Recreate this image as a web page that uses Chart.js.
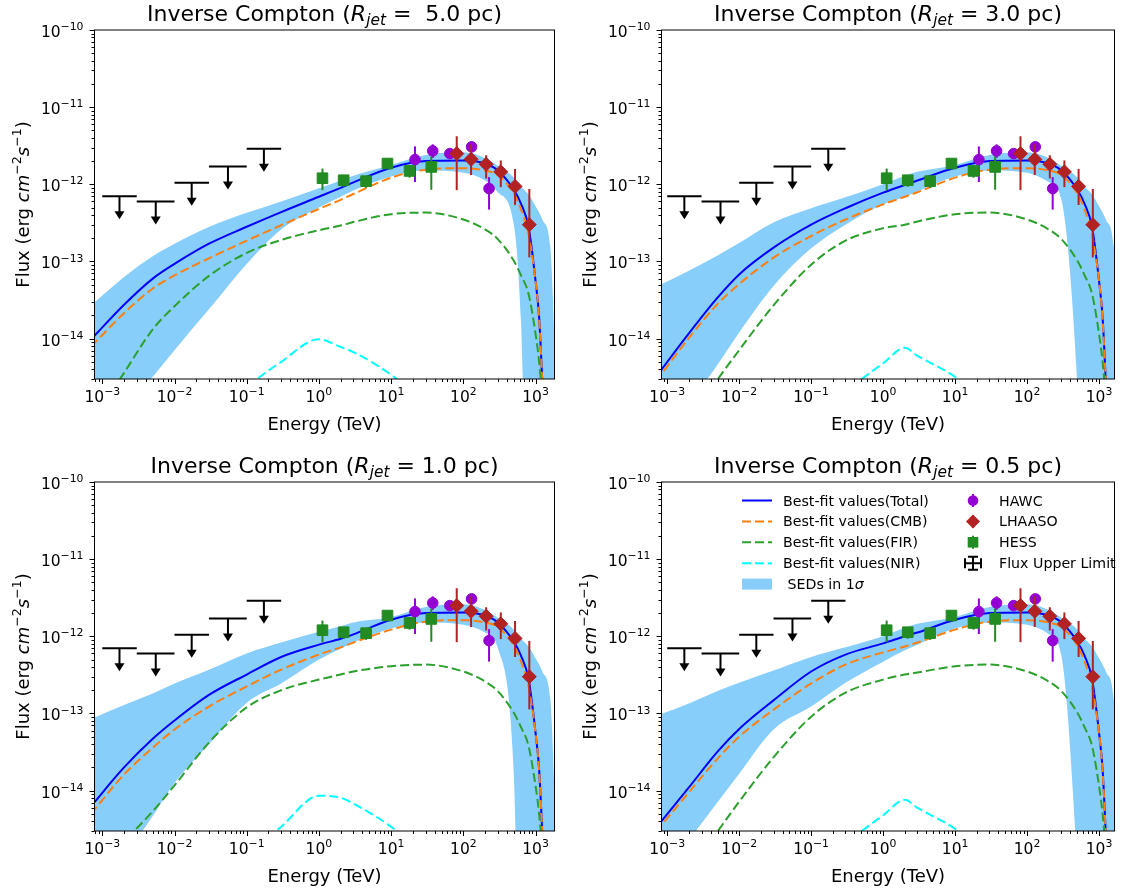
<!DOCTYPE html>
<html>
<head>
<meta charset="utf-8">
<script src="https://cdn.jsdelivr.net/npm/chart.js"></script>
<style>
  html, body { margin: 0; padding: 0; background: #fff; }
  #fig { position: relative; width: 1123px; height: 893px; background: #fff; }
  #fig canvas { position: absolute; left: 0; top: 0; }
</style>
</head>
<body>
<div id="fig">
  <canvas id="c0" width="1123" height="893"></canvas>
  <canvas id="c1" width="1123" height="893"></canvas>
  <canvas id="c2" width="1123" height="893"></canvas>
  <canvas id="c3" width="1123" height="893"></canvas>
</div>
<script>
// ---- model grid (TeV) ----
const energyTeV = [7e-4, 2e-3, 5e-3, 0.01, 0.03, 0.1, 0.3, 1, 2, 3, 10, 30, 100, 200, 300, 500, 630, 800, 1000, 1120, 1260, 1600, 2000];

// above 10 TeV the four fits look the same
const totalTail = [1.64e-12, 2.0e-12, 2.04e-12, 1.86e-12, 1.51e-12, 8.5e-13, 5.6e-13, 2.8e-13, 5.6e-14, 1.9e-14, 2.0e-15, 1e-17, 1e-19];
const cmbTail = [1.22e-12, 1.55e-12, 1.62e-12, 1.51e-12, 1.32e-12, 7.6e-13, 4.7e-13, 2.24e-13, 5.6e-14, 1.8e-14, 2.0e-15, 1e-17, 1e-19];
const firTail = [4.1e-13, 4.3e-13, 3.5e-13, 2.6e-13, 1.95e-13, 1.02e-13, 6.6e-14, 3.8e-14, 1.15e-14, 5.0e-15, 1.26e-15, 1e-17, 1e-19];
const bandHiTail = [1.78e-12, 2.4e-12, 2.6e-12, 2.2e-12, 1.74e-12, 1.23e-12, 9.3e-13, 7.4e-13, 5.2e-13, 4.3e-13, 3.4e-13, 1.55e-13, 1e-15];

// R_jet = 5.0 pc
const total5 = [9.8e-15, 2.75e-14, 6.0e-14, 9.3e-14, 1.7e-13, 2.82e-13, 4.37e-13, 6.9e-13, 9.0e-13, 1.06e-12, ...totalTail];
const cmb5 = [7.9e-15, 2.14e-14, 4.47e-14, 6.6e-14, 1.1e-13, 1.86e-13, 2.95e-13, 4.8e-13, 6.3e-13, 7.5e-13, ...cmbTail];
const fir5 = [7.9e-16, 3.6e-15, 1.32e-14, 2.63e-14, 6.5e-14, 1.29e-13, 1.9e-13, 2.54e-13, 2.92e-13, 3.24e-13, ...firTail];
const nir5 = [1e-17, 1e-17, 1e-16, 2.5e-16, 8e-16, 2.34e-15, 5.0e-15, 9.8e-15, 7.8e-15, 6.7e-15, 3.4e-15, 1.41e-15, 3.2e-16, 1e-17, 1e-17, 1e-17, 1e-17, 1e-17, 1e-17, 1e-17, 1e-17, 1e-17, 1e-17];
const bandHi5 = [2.7e-14, 6.3e-14, 1.17e-13, 1.7e-13, 2.8e-13, 4.27e-13, 6.0e-13, 8.9e-13, 1.12e-12, 1.29e-12, ...bandHiTail];
const bandLo5 = [4e-16, 1.17e-15, 3.2e-15, 7.1e-15, 2.4e-14, 9.3e-14, 2.6e-13, 5.0e-13, 6.9e-13, 8.3e-13, 1.26e-12, 1.51e-12, 1.41e-12, 1.12e-12, 7.9e-13, 3.0e-13, 1.6e-14, 1e-17, 1e-17, 1e-17, 1e-17, 1e-17, 1e-17];

// R_jet = 3.0 pc
const total3 = [3.2e-15, 1.17e-14, 3.4e-14, 6.8e-14, 1.51e-13, 3.0e-13, 4.9e-13, 7.8e-13, 9.8e-13, 1.12e-12, ...totalTail];
const cmb3 = [2.8e-15, 1.02e-14, 2.8e-14, 5.1e-14, 1.12e-13, 2.14e-13, 3.5e-13, 5.5e-13, 6.9e-13, 7.9e-13, ...cmbTail];
const fir3 = [2.5e-16, 8.9e-16, 2.95e-15, 7.1e-15, 2.7e-14, 9.1e-14, 1.86e-13, 2.7e-13, 3.0e-13, 3.3e-13, ...firTail];
const nir3 = [1e-17, 1e-17, 1e-17, 1e-16, 4e-16, 1e-15, 2.1e-15, 4.8e-15, 7.6e-15, 6.0e-15, 3.2e-15, 1.41e-15, 3.2e-16, 1e-17, 1e-17, 1e-17, 1e-17, 1e-17, 1e-17, 1e-17, 1e-17, 1e-17, 1e-17];
const bandHi3 = [4.7e-14, 7.6e-14, 1.2e-13, 1.74e-13, 3.2e-13, 4.9e-13, 6.8e-13, 1.0e-12, 1.29e-12, 1.45e-12, ...bandHiTail];
const bandLo3 = [4e-16, 1.41e-15, 4.6e-15, 1.2e-14, 4.8e-14, 1.48e-13, 3.0e-13, 5.5e-13, 6.9e-13, 8.1e-13, 1.26e-12, 1.51e-12, 1.41e-12, 1.07e-12, 6.3e-13, 2.5e-15, 1e-17, 1e-17, 1e-17, 1e-17, 1e-17, 1e-17, 1e-17];

// R_jet = 1.0 pc
const total1 = [6.3e-15, 2.0e-14, 4.7e-14, 8.1e-14, 1.74e-13, 3.2e-13, 5.4e-13, 7.8e-13, 9.3e-13, 1.06e-12, ...totalTail];
const cmb1 = [5.0e-15, 1.62e-14, 3.6e-14, 6.2e-14, 1.23e-13, 2.24e-13, 3.7e-13, 5.8e-13, 7.2e-13, 8.3e-13, ...cmbTail];
const fir1 = [7.9e-16, 2.2e-15, 5.4e-15, 1.17e-14, 4.2e-14, 1.2e-13, 2.0e-13, 2.75e-13, 3.2e-13, 3.5e-13, ...firTail];
const nir1 = [1e-17, 1e-17, 1e-17, 1e-16, 5e-16, 1.41e-15, 3.4e-15, 8.6e-15, 8.1e-15, 6.8e-15, 3.4e-15, 1.41e-15, 3.2e-16, 1e-17, 1e-17, 1e-17, 1e-17, 1e-17, 1e-17, 1e-17, 1e-17, 1e-17, 1e-17];
const bandHi1 = [8.5e-14, 1.29e-13, 1.82e-13, 2.45e-13, 3.7e-13, 6.0e-13, 8.3e-13, 1.15e-12, 1.35e-12, 1.51e-12, ...bandHiTail];
const bandLo1 = [5e-16, 1.41e-15, 4.7e-15, 1.26e-14, 4.0e-14, 1.38e-13, 2.45e-13, 5.0e-13, 6.9e-13, 8.3e-13, 1.26e-12, 1.51e-12, 1.41e-12, 1.12e-12, 7.1e-13, 1.6e-14, 1e-17, 1e-17, 1e-17, 1e-17, 1e-17, 1e-17, 1e-17];

// R_jet = 0.5 pc
const total05 = [3.3e-15, 1.1e-14, 3.2e-14, 6.3e-14, 1.48e-13, 3.5e-13, 5.8e-13, 8.1e-13, 1.0e-12, 1.12e-12, ...totalTail];
const cmb05 = [2.95e-15, 9.5e-15, 2.6e-14, 5.0e-14, 1.12e-13, 2.45e-13, 4.3e-13, 6.2e-13, 7.4e-13, 8.3e-13, ...cmbTail];
const fir05 = [2.5e-16, 8.9e-16, 2.95e-15, 7.2e-15, 2.7e-14, 9.1e-14, 1.86e-13, 2.75e-13, 3.2e-13, 3.4e-13, ...firTail];
const nir05 = [1e-17, 1e-17, 1e-17, 1e-16, 4e-16, 1e-15, 2.1e-15, 4.8e-15, 7.6e-15, 6.0e-15, 3.2e-15, 1.41e-15, 3.2e-16, 1e-17, 1e-17, 1e-17, 1e-17, 1e-17, 1e-17, 1e-17, 1e-17, 1e-17, 1e-17];
const bandHi05 = [9.3e-14, 1.35e-13, 1.95e-13, 2.5e-13, 3.6e-13, 5.4e-13, 7.2e-13, 1.0e-12, 1.29e-12, 1.45e-12, ...bandHiTail];
const bandLo05 = [6.3e-16, 2.3e-15, 7.1e-15, 1.66e-14, 6.2e-14, 1.23e-13, 2.5e-13, 4.7e-13, 6.6e-13, 7.8e-13, 1.26e-12, 1.51e-12, 1.41e-12, 1.07e-12, 5.6e-13, 1e-15, 1e-17, 1e-17, 1e-17, 1e-17, 1e-17, 1e-17, 1e-17];

// ---- measurements ----
const hawcE = [21.4, 37.7, 65, 130, 227];
const hawcF = [2.09e-12, 2.71e-12, 2.5e-12, 3.06e-12, 8.8e-13];
const hawcLo = [1.07e-12, 2.2e-12, 2.25e-12, 2.6e-12, 4.7e-13];
const hawcHi = [3.1e-12, 3.3e-12, 2.8e-12, 3.45e-12, 1.24e-12];

const lhaasoE = [81, 128, 207, 330, 520, 820];
const lhaasoF = [2.5e-12, 2.11e-12, 1.82e-12, 1.45e-12, 9.4e-13, 3.0e-13];
const lhaasoLo = [8.4e-13, 1.32e-12, 1.19e-12, 9.2e-13, 5.4e-13, 1.13e-13];
const lhaasoHi = [4.2e-12, 3.3e-12, 2.38e-12, 2.04e-12, 1.58e-12, 8.7e-13];

const hessE = [1.12, 2.2, 4.5, 8.9, 18, 36];
const hessF = [1.2e-12, 1.13e-12, 1.1e-12, 1.86e-12, 1.49e-12, 1.68e-12];
const hessLo = [8.4e-13, 9.3e-13, 9.0e-13, 1.7e-12, 1.22e-12, 8.5e-13];
const hessHi = [1.6e-12, 1.31e-12, 1.28e-12, 2.0e-12, 1.77e-12, 2.3e-12];

// flux upper limits: energy bin edges and flux
const ulELo = [1e-3, 3e-3, 1e-2, 3e-2, 0.1];
const ulEHi = [3e-3, 1e-2, 3e-2, 0.1, 0.3];
const ulE = [1.73e-3, 5.5e-3, 1.73e-2, 5.5e-2, 0.173];
const ulFlux = [7e-13, 6e-13, 1.05e-12, 1.7e-12, 2.9e-12];

const yTicks = [-14, -13, -12, -11, -10];

const C = {
  total: '#0000ff', cmb: '#ff7f0e', fir: '#2ca02c', nir: '#00ffff', band: '#87cefa',
  hawc: '#9400d3', lhaaso: '#b22222', hess: '#228b22'
};
const FAM = '"DejaVu Sans"';

const panels = [
  { id: 'c0', eq: ' =  5.0 pc)', box: { left: 94.5, top: 30, right: 554.5, bottom: 379 }, xMin: 7.8e-4, xMax: 1830,
    total: total5, cmb: cmb5, fir: fir5, nir: nir5, bandHi: bandHi5, bandLo: bandLo5 },
  { id: 'c1', eq: ' = 3.0 pc)', box: { left: 661.5, top: 30, right: 1121, bottom: 379 }, xMin: 8.33e-4, xMax: 1640,
    total: total3, cmb: cmb3, fir: fir3, nir: nir3, bandHi: bandHi3, bandLo: bandLo3 },
  { id: 'c2', eq: ' = 1.0 pc)', box: { left: 94.5, top: 482, right: 554.5, bottom: 831 }, xMin: 7.8e-4, xMax: 1830,
    total: total1, cmb: cmb1, fir: fir1, nir: nir1, bandHi: bandHi1, bandLo: bandLo1 },
  { id: 'c3', eq: ' = 0.5 pc)', box: { left: 661.5, top: 482, right: 1121, bottom: 831 }, xMin: 8.33e-4, xMax: 1640,
    total: total05, cmb: cmb05, fir: fir05, nir: nir05, bandHi: bandHi05, bandLo: bandLo05, legend: true },
];

// small helper for mathtext-like strings
function fontOf(p, size) {
  return (p.it ? 'italic ' : '') + (size * (p.s || 1)) + 'px ' + FAM;
}
function drawRich(ctx, parts, x, y, size, align) {
  let w = 0;
  for (const p of parts) { ctx.font = fontOf(p, size); w += ctx.measureText(p.t).width; }
  let cx = align === 'center' ? x - w / 2 : align === 'right' ? x - w : x;
  ctx.textAlign = 'left';
  ctx.textBaseline = 'alphabetic';
  for (const p of parts) {
    ctx.font = fontOf(p, size);
    ctx.fillText(p.t, cx, y + (p.dy || 0) * size);
    cx += ctx.measureText(p.t).width;
  }
}
function pow10(k) {
  return [{ t: '10' }, { t: String(k).replace('-', '\u2212'), s: 0.7, dy: -0.45 }];
}

function drawMarker(ctx, kind, x, y, color) {
  ctx.fillStyle = color;
  ctx.beginPath();
  if (kind === 'circle') ctx.arc(x, y, 5.3, 0, Math.PI * 2);
  else if (kind === 'diamond') { ctx.moveTo(x, y - 7); ctx.lineTo(x + 7, y); ctx.lineTo(x, y + 7); ctx.lineTo(x - 7, y); ctx.closePath(); }
  else ctx.rect(x - 5.3, y - 5.3, 10.6, 10.6);
  ctx.fill();
}

function drawLegend(ctx) {
  const rows = [500.5, 521.4, 542.3, 563.2, 584.1];
  const fs = 14.2;
  const lines = [
    ['Best-fit values(Total)', C.total, []],
    ['Best-fit values(CMB)', C.cmb, [9, 4]],
    ['Best-fit values(FIR)', C.fir, [9, 4]],
    ['Best-fit values(NIR)', C.nir, [9, 4]],
  ];
  ctx.save();
  lines.forEach(([label, color, dash], i) => {
    ctx.strokeStyle = color; ctx.lineWidth = 2; ctx.setLineDash(dash);
    ctx.beginPath(); ctx.moveTo(742, rows[i]); ctx.lineTo(772, rows[i]); ctx.stroke();
    ctx.fillStyle = '#000';
    drawRich(ctx, [{ t: label }], 783, rows[i] + 5, fs, 'left');
  });
  ctx.setLineDash([]);
  ctx.fillStyle = C.band;
  ctx.fillRect(742, rows[4] - 5.5, 30, 11);
  ctx.fillStyle = '#000';
  drawRich(ctx, [{ t: ' SEDs in 1' }, { t: '\u03c3', it: true }], 783, rows[4] + 5, fs, 'left');

  const mk = [['HAWC', 'circle', C.hawc], ['LHAASO', 'diamond', C.lhaaso], ['HESS', 'square', C.hess]];
  mk.forEach(([label, kind, color], i) => {
    ctx.strokeStyle = color; ctx.lineWidth = 2;
    ctx.beginPath(); ctx.moveTo(973, rows[i] - 6.5); ctx.lineTo(973, rows[i] + 6.5); ctx.stroke();
    drawMarker(ctx, kind, 973, rows[i], color);
    ctx.fillStyle = '#000';
    drawRich(ctx, [{ t: label }], 999, rows[i] + 5, fs, 'left');
  });
  // errorbar cross for the upper limits
  const y = rows[3];
  ctx.strokeStyle = '#000'; ctx.lineWidth = 2;
  ctx.beginPath();
  ctx.moveTo(965, y); ctx.lineTo(981, y);
  ctx.moveTo(973, y - 6.5); ctx.lineTo(973, y + 6.5);
  ctx.moveTo(965, y - 5); ctx.lineTo(965, y + 5);
  ctx.moveTo(981, y - 5); ctx.lineTo(981, y + 5);
  ctx.moveTo(968, y - 6.5); ctx.lineTo(978, y - 6.5);
  ctx.moveTo(968, y + 6.5); ctx.lineTo(978, y + 6.5);
  ctx.stroke();
  ctx.fillStyle = '#000';
  drawRich(ctx, [{ t: 'Flux Upper Limit' }], 999, y + 5, fs, 'left');
  ctx.restore();
}

const sedPainter = {
  id: 'sedPainter',
  beforeDatasetDraw(chart, args) {
    const ds = chart.data.datasets[args.index];
    if (!ds.errLo) return;
    const xs = chart.scales.x, ys = chart.scales.y, ctx = chart.ctx;
    ctx.save();
    ctx.strokeStyle = ds.pointBorderColor;
    ctx.lineWidth = 2;
    ds.data.forEach((p, i) => {
      const px = xs.getPixelForValue(p.x);
      ctx.beginPath();
      ctx.moveTo(px, ys.getPixelForValue(ds.errLo[i]));
      ctx.lineTo(px, ys.getPixelForValue(ds.errHi[i]));
      ctx.stroke();
    });
    ctx.restore();
  },
  afterDatasetsDraw(chart) {
    const xs = chart.scales.x, ys = chart.scales.y, ctx = chart.ctx;
    ctx.save();
    ctx.strokeStyle = '#000'; ctx.fillStyle = '#000'; ctx.lineWidth = 2;
    ulFlux.forEach((f, i) => {
      const py = ys.getPixelForValue(f);
      const px = xs.getPixelForValue(ulE[i]);
      ctx.beginPath();
      ctx.moveTo(xs.getPixelForValue(ulELo[i]), py);
      ctx.lineTo(xs.getPixelForValue(ulEHi[i]), py);
      ctx.moveTo(px, py);
      ctx.lineTo(px, py + 16);
      ctx.stroke();
      ctx.beginPath();
      ctx.moveTo(px - 5, py + 15); ctx.lineTo(px + 5, py + 15); ctx.lineTo(px, py + 23); ctx.closePath();
      ctx.fill();
    });
    ctx.restore();
  },
  afterDraw(chart) {
    const ctx = chart.ctx, a = chart.chartArea;
    const xs = chart.scales.x, ys = chart.scales.y;
    const panel = chart.options.plugins.sedPainter.panel;
    ctx.save();
    ctx.strokeStyle = '#000'; ctx.fillStyle = '#000'; ctx.lineWidth = 1;
    ctx.strokeRect(a.left, a.top, a.right - a.left, a.bottom - a.top);

    // x ticks
    const k0 = Math.floor(Math.log10(xs.min)), k1 = Math.floor(Math.log10(xs.max));
    ctx.beginPath();
    for (let k = k0; k <= k1; k++) {
      for (let m = 1; m <= 9; m++) {
        const v = m * Math.pow(10, k);
        if (v < xs.min || v > xs.max) continue;
        const px = Math.round(xs.getPixelForValue(v)) + 0.5;
        ctx.moveTo(px, a.bottom); ctx.lineTo(px, a.bottom + (m === 1 ? 5 : 3));
      }
    }
    // y ticks
    for (let k = -15; k <= -10; k++) {
      for (let m = 1; m <= 9; m++) {
        const v = m * Math.pow(10, k);
        if (v < ys.min * 0.999 || v > ys.max * 1.001) continue;
        const py = Math.round(ys.getPixelForValue(v)) + 0.5;
        ctx.moveTo(a.left, py); ctx.lineTo(a.left - (m === 1 ? 5 : 3), py);
      }
    }
    ctx.stroke();

    const tfs = 15.5;
    for (let k = Math.ceil(Math.log10(xs.min)); k <= k1; k++) {
      drawRich(ctx, pow10(k), xs.getPixelForValue(Math.pow(10, k)), a.bottom + 23, tfs, 'center');
    }
    yTicks.forEach(k => {
      drawRich(ctx, pow10(k), a.left - 11, ys.getPixelForValue(Math.pow(10, k)) + 7, tfs, 'right');
    });

    const cx = (a.left + a.right) / 2, cy = (a.top + a.bottom) / 2;
    drawRich(ctx, [{ t: 'Energy (TeV)' }], cx, a.bottom + 51, 18, 'center');
    ctx.save();
    ctx.translate(a.left - 66, cy);
    ctx.rotate(-Math.PI / 2);
    drawRich(ctx, [{ t: 'Flux (erg ' }, { t: 'cm', it: true }, { t: '\u22122', s: 0.7, dy: -0.42 },
      { t: 's', it: true }, { t: '\u22121', s: 0.7, dy: -0.42 }, { t: ')' }], 0, 0, 18, 'center');
    ctx.restore();

    drawRich(ctx, [{ t: 'Inverse Compton (' }, { t: 'R', it: true }, { t: 'jet', it: true, s: 0.7, dy: 0.19 },
      { t: panel.eq }], cx, a.top - 9, 22, 'center');

    if (panel.legend) drawLegend(ctx);
    ctx.restore();
  }
};

function build(panel) {
  const xy = ys => energyTeV.map((e, i) => ({ x: e, y: ys[i] }));
  const pts = (es, fs) => es.map((e, i) => ({ x: e, y: fs[i] }));
  const curve = (label, ys, color, dash, order) => ({
    label, data: xy(ys), borderColor: color, borderWidth: 2, borderDash: dash,
    pointRadius: 0, fill: false, cubicInterpolationMode: 'monotone', clip: 0, order
  });
  const marks = (label, es, fs, lo, hi, style, r, color, order) => ({
    label, data: pts(es, fs), errLo: lo, errHi: hi, showLine: false,
    pointStyle: style, pointRadius: r, pointBackgroundColor: color, pointBorderColor: color,
    pointBorderWidth: 1, clip: false, order
  });
  const b = panel.box;
  return new Chart(document.getElementById(panel.id), {
    type: 'line',
    data: {
      datasets: [
        marks('HESS', hessE, hessF, hessLo, hessHi, 'rect', 7.5, C.hess, 1),
        marks('LHAASO', lhaasoE, lhaasoF, lhaasoLo, lhaasoHi, 'rectRot', 7, C.lhaaso, 2),
        marks('HAWC', hawcE, hawcF, hawcLo, hawcHi, 'circle', 5.3, C.hawc, 3),
        curve('Best-fit values(NIR)', panel.nir, C.nir, [9, 4], 4),
        curve('Best-fit values(FIR)', panel.fir, C.fir, [9, 4], 5),
        curve('Best-fit values(CMB)', panel.cmb, C.cmb, [9, 4], 6),
        curve('Best-fit values(Total)', panel.total, C.total, [], 7),
        { label: 'SEDs in 1sigma', data: xy(panel.bandHi), fill: '+1', backgroundColor: C.band,
          borderColor: 'rgba(0,0,0,0)', pointRadius: 0, cubicInterpolationMode: 'monotone', order: 8 },
        { label: 'band low', data: xy(panel.bandLo), fill: false, borderColor: 'rgba(0,0,0,0)',
          pointRadius: 0, cubicInterpolationMode: 'monotone', order: 9 },
      ]
    },
    options: {
      responsive: false,
      animation: false,
      events: [],
      devicePixelRatio: 1,
      layout: { padding: { left: b.left, top: b.top, right: 1123 - b.right, bottom: 893 - b.bottom } },
      elements: { line: { capBezierPoints: false } },
      scales: {
        x: { type: 'logarithmic', min: panel.xMin, max: panel.xMax, display: false },
        y: { type: 'logarithmic', min: 3e-15, max: 1e-10, display: false }
      },
      plugins: {
        legend: { display: false },
        tooltip: { enabled: false },
        title: { display: false },
        sedPainter: { panel }
      }
    },
    plugins: [sedPainter]
  });
}

panels.forEach(build);
</script>
</body>
</html>
